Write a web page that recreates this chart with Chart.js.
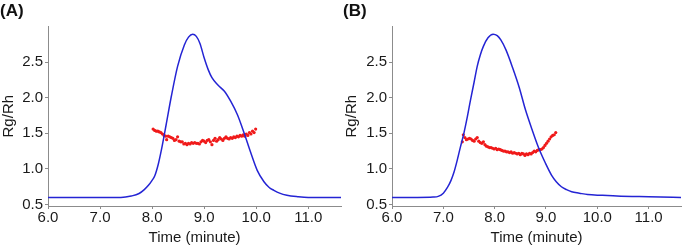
<!DOCTYPE html>
<html>
<head>
<meta charset="utf-8">
<script src="https://cdn.jsdelivr.net/npm/chart.js@4"></script>
<style>
  body { margin: 0; background: #fff; }
  #wrap { position: relative; width: 685px; height: 248px; }
  #cA { position: absolute; left: 0; top: 0; }
  #cB { position: absolute; left: 343px; top: 0; }
</style>
</head>
<body>
<div id="wrap">
  <canvas id="cA" width="345" height="248"></canvas>
  <canvas id="cB" width="342" height="248"></canvas>
</div>
<script>
// tick labels
var xTicks = [6, 7, 8, 9, 10, 11]
var yTicks = [0.5, 1.0, 1.5, 2.0, 2.5]

// panel A - signal trace (blue)
var timeA = [6.0, 6.5, 7.0, 7.4, 7.6, 7.75, 7.85, 7.93, 8.0, 8.05, 8.12, 8.18, 8.27, 8.37, 8.49, 8.62, 8.70, 8.78, 8.85, 8.92, 9.0, 9.08, 9.15, 9.26, 9.39, 9.51, 9.64, 9.77, 9.89, 10.02, 10.15, 10.25, 10.34, 10.45, 10.59, 10.8, 11.0, 11.3, 11.7]
var signalA = [0.60, 0.60, 0.60, 0.60, 0.62, 0.655, 0.71, 0.77, 0.84, 0.90, 1.07, 1.27, 1.62, 2.02, 2.44, 2.74, 2.85, 2.89, 2.86, 2.76, 2.56, 2.39, 2.28, 2.18, 2.09, 1.95, 1.76, 1.50, 1.24, 0.98, 0.82, 0.74, 0.70, 0.66, 0.63, 0.61, 0.60, 0.60, 0.60]

// panel A - Rg/Rh points (red)
var rgTimeA = [8.02, 8.05, 8.08, 8.11, 8.14, 8.17, 8.20, 8.23, 8.26, 8.28, 8.31, 8.34, 8.37, 8.40, 8.43, 8.46, 8.49, 8.52, 8.55, 8.58, 8.61, 8.64, 8.67, 8.70, 8.73, 8.76, 8.79, 8.82, 8.85, 8.88, 8.91, 8.94, 8.97, 9.00, 9.03, 9.06, 9.09, 9.12, 9.15, 9.18, 9.21, 9.24, 9.27, 9.30, 9.33, 9.36, 9.39, 9.42, 9.45, 9.48, 9.51, 9.54, 9.57, 9.60, 9.63, 9.66, 9.69, 9.72, 9.75, 9.78, 9.81, 9.84, 9.87, 9.90, 9.93, 9.96, 9.99]
var rgA = [1.56, 1.54, 1.53, 1.53, 1.52, 1.51, 1.49, 1.47, 1.46, 1.41, 1.46, 1.45, 1.44, 1.43, 1.40, 1.41, 1.45, 1.39, 1.38, 1.38, 1.35, 1.36, 1.34, 1.36, 1.35, 1.37, 1.36, 1.37, 1.36, 1.36, 1.35, 1.38, 1.40, 1.39, 1.37, 1.40, 1.41, 1.38, 1.34, 1.40, 1.43, 1.39, 1.41, 1.44, 1.42, 1.40, 1.43, 1.45, 1.43, 1.42, 1.44, 1.43, 1.45, 1.44, 1.46, 1.45, 1.47, 1.46, 1.48, 1.46, 1.49, 1.47, 1.51, 1.49, 1.53, 1.51, 1.56]

// panel B - signal trace (blue)
var timeB = [6.0, 6.5, 6.8, 6.9, 7.0, 7.08, 7.15, 7.21, 7.27, 7.33, 7.40, 7.47, 7.53, 7.60, 7.66, 7.72, 7.78, 7.87, 7.97, 8.05, 8.12, 8.22, 8.35, 8.48, 8.60, 8.73, 8.86, 8.99, 9.11, 9.2, 9.3, 9.4, 9.5, 9.65, 9.81, 10.1, 10.38, 11.0, 11.7]
var signalB = [0.60, 0.60, 0.605, 0.615, 0.66, 0.74, 0.84, 0.96, 1.12, 1.30, 1.50, 1.74, 1.97, 2.22, 2.44, 2.60, 2.72, 2.84, 2.89, 2.87, 2.81, 2.67, 2.42, 2.14, 1.83, 1.55, 1.29, 1.08, 0.91, 0.82, 0.75, 0.71, 0.68, 0.66, 0.64, 0.63, 0.62, 0.61, 0.60]

// panel B - Rg/Rh points (red)
var rgTimeB = [7.37, 7.39, 7.42, 7.45, 7.48, 7.51, 7.54, 7.57, 7.60, 7.63, 7.66, 7.69, 7.72, 7.75, 7.78, 7.81, 7.84, 7.87, 7.90, 7.93, 7.96, 7.99, 8.02, 8.05, 8.08, 8.11, 8.14, 8.17, 8.20, 8.23, 8.26, 8.29, 8.32, 8.35, 8.38, 8.41, 8.44, 8.47, 8.50, 8.53, 8.56, 8.59, 8.62, 8.65, 8.68, 8.71, 8.74, 8.77, 8.80, 8.83, 8.86, 8.89, 8.92, 8.95, 8.98, 9.01, 9.04, 9.07, 9.10, 9.13, 9.16, 9.19]
var rgB = [1.38, 1.48, 1.44, 1.41, 1.42, 1.43, 1.42, 1.40, 1.39, 1.42, 1.44, 1.39, 1.37, 1.36, 1.38, 1.34, 1.32, 1.31, 1.30, 1.30, 1.29, 1.28, 1.29, 1.27, 1.28, 1.27, 1.26, 1.25, 1.25, 1.24, 1.24, 1.23, 1.24, 1.22, 1.23, 1.22, 1.21, 1.22, 1.20, 1.22, 1.21, 1.19, 1.21, 1.20, 1.22, 1.21, 1.23, 1.25, 1.24, 1.26, 1.27, 1.27, 1.28, 1.30, 1.33, 1.36, 1.39, 1.42, 1.45, 1.47, 1.48, 1.51]

function pts(xs, ys) {
    return xs.map(function (x, i) { return { x: x, y: ys[i] } })
}

var axisGrey = '#8c8c8c'
var fontFam = '"Liberation Sans", Arial, sans-serif'

function createPanel(ctx, label, yWidth, t, s, rt, r) {
    return new Chart(ctx, {
        type: 'scatter',
        data: {
            datasets: [{
                type: 'line',
                data: pts(t, s),
                borderColor: '#2424d4',
                borderWidth: 1.5,
                pointRadius: 0,
                fill: false,
                cubicInterpolationMode: 'monotone'
            }, {
                data: pts(rt, r),
                backgroundColor: '#f01a1a',
                borderWidth: 0,
                pointRadius: 1.6
            }]
        },
        options: {
            responsive: false,
            animation: false,
            layout: { padding: { left: 0, right: 0, top: 0, bottom: 0 } },
            plugins: {
                legend: { display: false },
                tooltip: { enabled: false },
                title: {
                    display: true,
                    text: label,
                    align: 'start',
                    color: '#111',
                    font: { family: fontFam, size: 17, weight: 'bold' },
                    padding: { top: 1, bottom: 5 }
                }
            },
            scales: {
                x: {
                    type: 'linear',
                    min: 6.0,
                    max: 11.63,
                    afterBuildTicks: function (sc) { sc.ticks = xTicks.map(function (v) { return { value: v } }) },
                    afterFit: function (sc) { sc.height = 42 },
                    border: { color: axisGrey, width: 1 },
                    grid: { drawOnChartArea: false, color: axisGrey, tickLength: 3 },
                    ticks: {
                        color: '#1a1a1a',
                        font: { family: fontFam, size: 15 },
                        padding: 0,
                        maxRotation: 0,
                        callback: function (v) { return v.toFixed(1) }
                    },
                    title: {
                        display: true,
                        text: 'Time (minute)',
                        color: '#1a1a1a',
                        font: { family: fontFam, size: 15 },
                        padding: { top: 0, bottom: 1 }
                    }
                },
                y: {
                    min: 0.48,
                    max: 3.0,
                    afterBuildTicks: function (sc) { sc.ticks = yTicks.map(function (v) { return { value: v } }) },
                    afterFit: function (sc) { sc.width = yWidth },
                    border: { color: axisGrey, width: 1 },
                    grid: { drawOnChartArea: false, color: axisGrey, tickLength: 3 },
                    ticks: {
                        color: '#1a1a1a',
                        font: { family: fontFam, size: 15 },
                        padding: 2,
                        callback: function (v) { return v.toFixed(1) }
                    },
                    title: {
                        display: true,
                        text: 'Rg/Rh',
                        color: '#1a1a1a',
                        font: { family: fontFam, size: 15 },
                        padding: { top: 0, bottom: 0 }
                    }
                }
            }
        }
    })
}

var graficoA = createPanel(document.getElementById('cA'), '(A)', 48, timeA, signalA, rgTimeA, rgA)
var graficoB = createPanel(document.getElementById('cB'), '(B)', 49, timeB, signalB, rgTimeB, rgB)
</script>
</body>
</html>
